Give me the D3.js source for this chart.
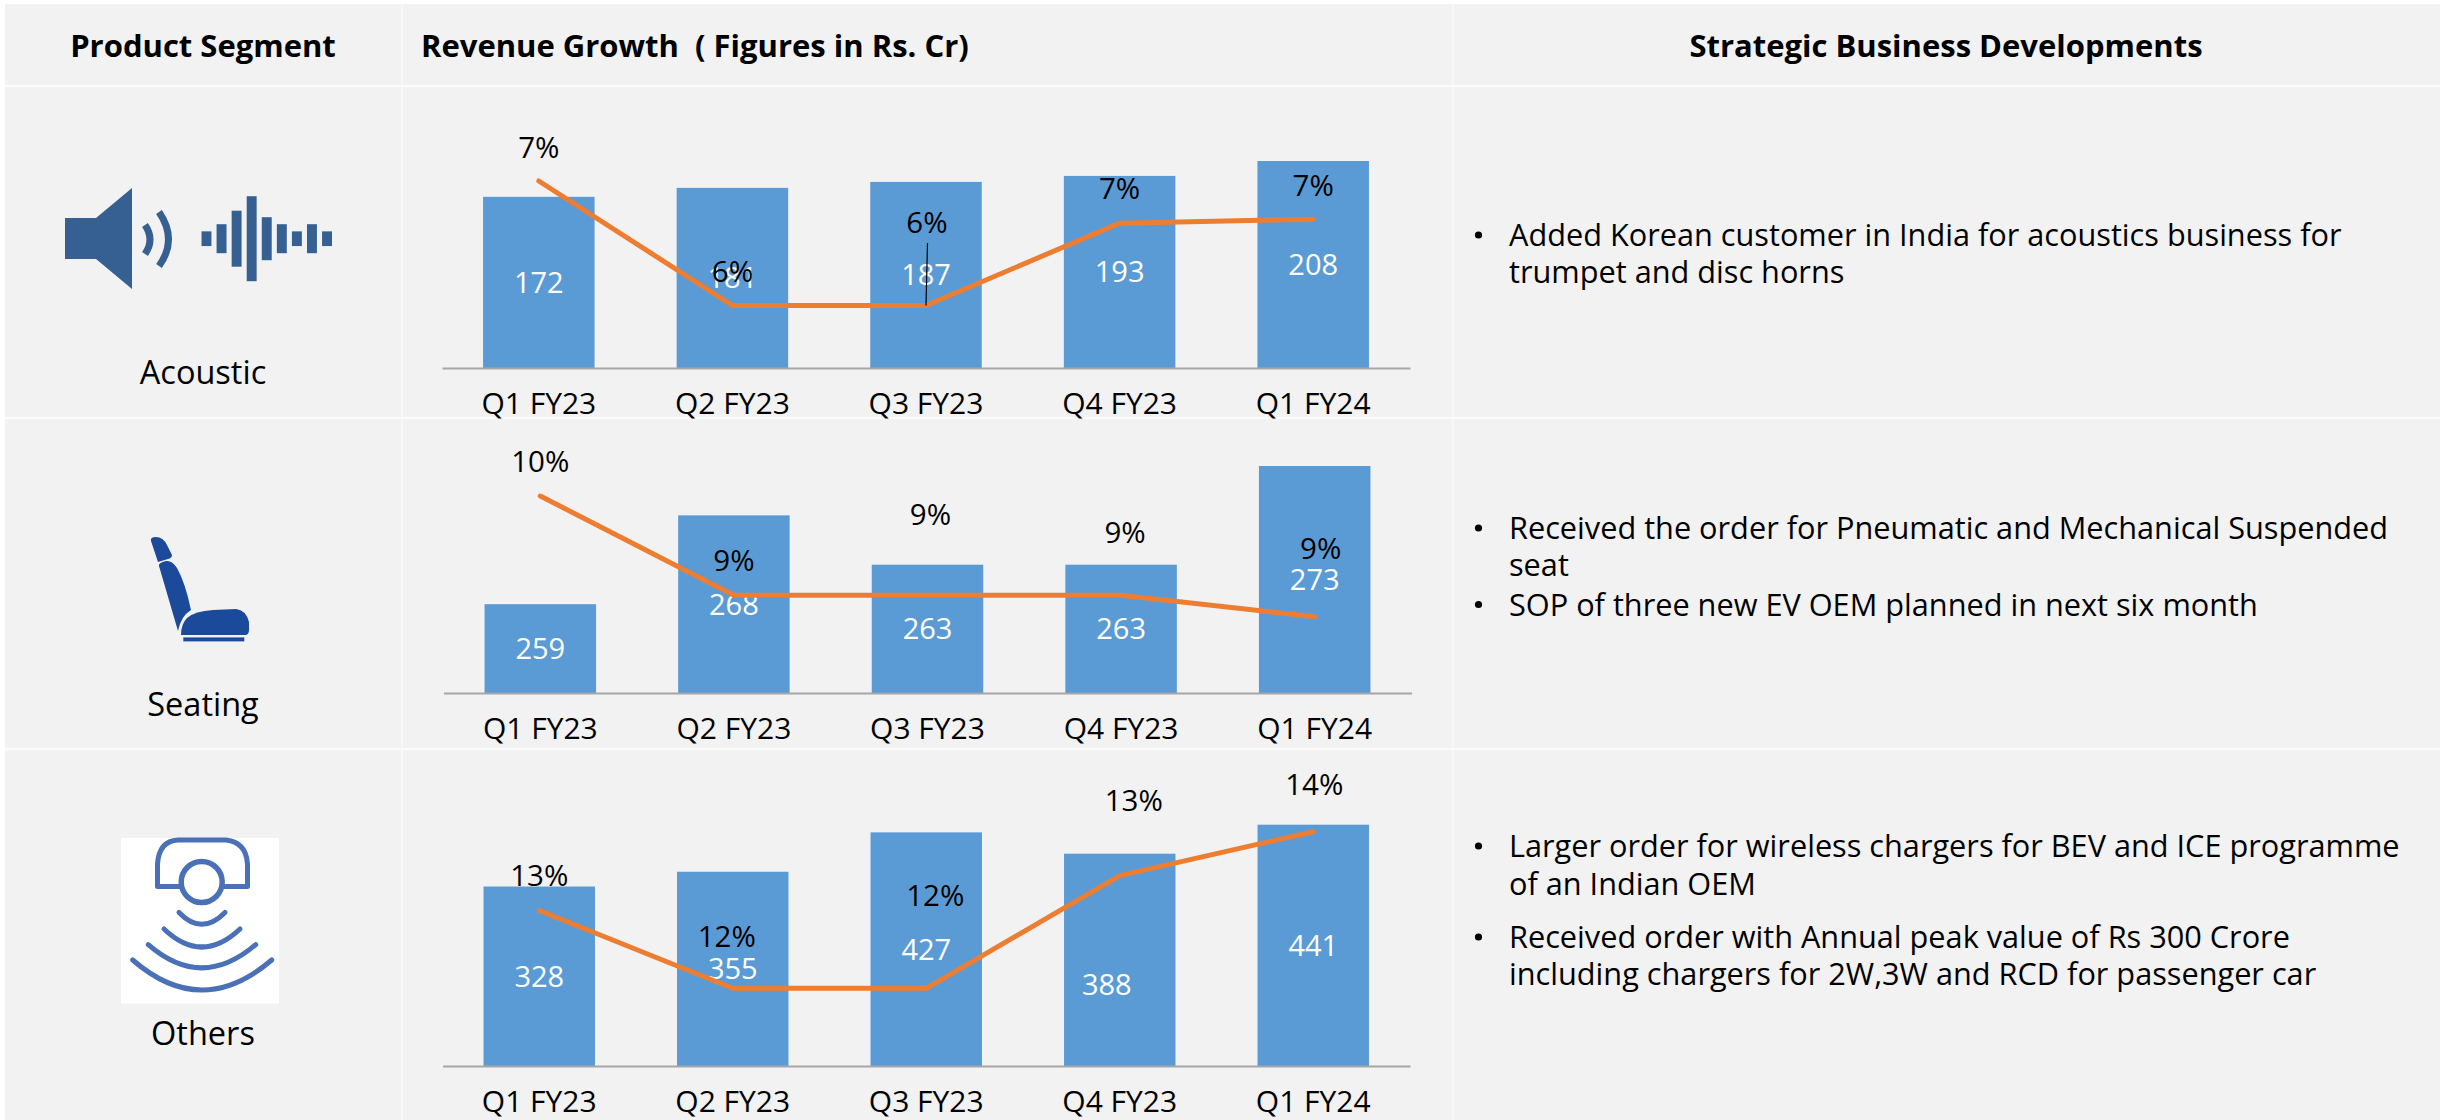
<!DOCTYPE html>
<html>
<head>
<meta charset="utf-8">
<script src="https://cdn.jsdelivr.net/npm/d3@7"></script>
<style>
body { margin: 0; background: #fff; }
svg { display: block; }
text { font-family: "Open Sans", "Noto Sans", sans-serif; fill: #000; }
</style>
</head>
<body>
<script>
const quarters = ["Q1 FY23", "Q2 FY23", "Q3 FY23", "Q4 FY23", "Q1 FY24"];

const acousticRevenue = [172, 181, 187, 193, 208];
const seatingRevenue = [259, 268, 263, 263, 273];
const othersRevenue = [328, 355, 427, 388, 441];

// the line values are estimated from the picture, the labels are what is printed
const acousticGrowth = [7.24, 6.0, 6.0, 6.82, 6.86];
const seatingGrowth = [9.6, 9.0, 9.0, 9.0, 8.87];
const othersGrowth = [12.78, 12.0, 12.0, 13.13, 13.57];
const acousticGrowthLabels = ["7%", "6%", "6%", "7%", "7%"];
const seatingGrowthLabels = ["10%", "9%", "9%", "9%", "9%"];
const othersGrowthLabels = ["13%", "12%", "12%", "13%", "14%"];

const headers = ["Product Segment", "Revenue Growth  ( Figures in Rs. Cr)", "Strategic Business Developments"];
const segments = ["Acoustic", "Seating", "Others"];
const acousticNotes = [["Added Korean customer in India for acoustics business for", "trumpet and disc horns"]];
const seatingNotes = [["Received the order for Pneumatic and Mechanical Suspended", "seat"], ["SOP of three new EV OEM planned in next six month"]];
const othersNotes = [["Larger order for wireless chargers for BEV and ICE programme", "of an Indian OEM"], ["Received order with Annual peak value of Rs 300 Crore", "including chargers for 2W,3W and RCD for passenger car"]];

const waveBars = [14.7, 29, 56, 85, 43, 29, 14.7, 29, 14.7];

const width = 2440;
const height = 1120;
const blue = "#5b9bd5";
const orange = "#ed7d31";

const svg = d3.select("body")
    .append("svg")
    .attr("width", width)
    .attr("height", height);

// table background and the thin white rules
svg.append("rect")
    .attr("x", 5).attr("y", 4)
    .attr("width", width - 5).attr("height", height - 4)
    .attr("fill", "#f2f2f2");

svg.selectAll("line.rowRule")
    .data([86, 418, 749])
    .join("line")
        .attr("class", "rowRule")
        .attr("x1", 5).attr("x2", width)
        .attr("y1", d => d).attr("y2", d => d)
        .attr("stroke", "#fbfbfb")
        .attr("stroke-width", 2);

svg.selectAll("line.colRule")
    .data([402, 1453])
    .join("line")
        .attr("class", "colRule")
        .attr("x1", d => d).attr("x2", d => d)
        .attr("y1", 4).attr("y2", height)
        .attr("stroke", "#f8f8f8")
        .attr("stroke-width", 1.5);

// header row
svg.selectAll("text.header")
    .data(headers)
    .join("text")
        .attr("class", "header")
        .attr("x", (d, i) => [203, 421, 1946][i])
        .attr("y", 57)
        .attr("text-anchor", (d, i) => i == 1 ? "start" : "middle")
        .attr("font-size", 31)
        .attr("font-weight", 700)
        .attr("xml:space", "preserve")
        .style("white-space", "pre")
        .text(d => d);

// segment names
svg.selectAll("text.segment")
    .data(segments)
    .join("text")
        .attr("class", "segment")
        .attr("x", 203)
        .attr("y", (d, i) => [384, 716, 1045][i])
        .attr("text-anchor", "middle")
        .attr("font-size", 32.5)
        .text(d => d);

function drawPanel(cfg) {
    const x = d3.scaleBand()
        .domain(quarters)
        .range(cfg.xRange)
        .paddingInner(0.424)
        .paddingOuter(0.212);
    const y = d3.scaleLinear().domain(cfg.revenueDomain).range([cfg.baseline, cfg.top]);
    const yGrowth = d3.scaleLinear().domain(cfg.growthDomain).range(cfg.growthRange);
    const cx = i => x(quarters[i]) + x.bandwidth() / 2;

    const g = svg.append("g");

    g.selectAll("rect")
        .data(cfg.revenue)
        .join("rect")
            .attr("x", (d, i) => x(quarters[i]))
            .attr("y", d => y(d))
            .attr("width", x.bandwidth())
            .attr("height", d => cfg.baseline - y(d))
            .attr("fill", blue);

    const axis = g.append("g")
        .attr("transform", "translate(0," + cfg.baseline + ")")
        .call(d3.axisBottom(x).tickSize(0).tickPadding(25));
    axis.select(".domain").attr("stroke", "#a6a6a6").attr("stroke-width", 2);
    axis.selectAll("text")
        .attr("font-size", 30)
        .attr("fill", "#000")
        .style("font-family", '"Open Sans", "Noto Sans", sans-serif');

    g.selectAll("text.value")
        .data(cfg.revenue)
        .join("text")
            .attr("class", "value")
            .attr("x", (d, i) => cx(i) + (cfg.valueShift[i] ? cfg.valueShift[i][0] : 0))
            .attr("y", (d, i) => (y(d) + cfg.baseline) / 2 + (cfg.valueShift[i] ? cfg.valueShift[i][1] : 0))
            .attr("dy", "0.36em")
            .attr("text-anchor", "middle")
            .attr("font-size", 29)
            .style("fill", "#fff")
            .text(d => d);

    const line = d3.line()
        .x((d, i) => cx(i))
        .y(d => yGrowth(d));

    g.append("path")
        .attr("d", line(cfg.growth))
        .attr("fill", "none")
        .attr("stroke", orange)
        .attr("stroke-width", 5)
        .attr("stroke-linecap", "round")
        .attr("stroke-linejoin", "round");

    g.selectAll("text.growth")
        .data(cfg.growthLabels)
        .join("text")
            .attr("class", "growth")
            .attr("x", (d, i) => cx(i) + cfg.labelShift[i][0])
            .attr("y", (d, i) => yGrowth(cfg.growth[i]) + cfg.labelShift[i][1])
            .attr("dy", "0.36em")
            .attr("text-anchor", "middle")
            .attr("font-size", 29.5)
            .text(d => d);

    return { cx, yGrowth };
}

const acousticPanel = drawPanel({
    revenue: acousticRevenue, growth: acousticGrowth, growthLabels: acousticGrowthLabels,
    xRange: [442, 1410], baseline: 368, top: 161, revenueDomain: [0, 208],
    growthDomain: [6, 7.24], growthRange: [305.5, 181],
    valueShift: [],
    labelShift: [[0, -34], [0, -34], [1, -83], [0, -35], [0, -34]]
});

drawPanel({
    revenue: seatingRevenue, growth: seatingGrowth, growthLabels: seatingGrowthLabels,
    xRange: [443.5, 1411.5], baseline: 693, top: 466, revenueDomain: [250, 273],
    growthDomain: [8.87, 9.6], growthRange: [616.7, 496],
    valueShift: [],
    labelShift: [[0, -35], [0, -35], [3, -81], [4, -63], [6, -68]]
});

drawPanel({
    revenue: othersRevenue, growth: othersGrowth, growthLabels: othersGrowthLabels,
    xRange: [442.5, 1410], baseline: 1066, top: 824.7, revenueDomain: [0, 441],
    growthDomain: [12, 13.57], growthRange: [988.3, 831.7],
    valueShift: [null, null, null, [-13, 25], null],
    labelShift: [[0, -35], [-6, -52], [9, -93], [14, -75], [1, -47]]
});

// the small leader line under the Q3 label of the acoustic chart
svg.append("line")
    .attr("x1", 927.5).attr("y1", 243)
    .attr("x2", acousticPanel.cx(2)).attr("y2", acousticPanel.yGrowth(acousticGrowth[2]))
    .attr("stroke", "#000")
    .attr("stroke-width", 1.2);

// right hand notes
function drawNotes(notes, baselines) {
    let k = 0;
    notes.forEach(lines => {
        lines.forEach((t, j) => {
            if (j == 0) {
                svg.append("circle")
                    .attr("cx", 1478.5).attr("cy", baselines[k] - 11)
                    .attr("r", 3.6).attr("fill", "#000");
            }
            svg.append("text")
                .attr("x", 1509).attr("y", baselines[k])
                .attr("font-size", 30.7)
                .text(t);
            k++;
        });
    });
}
drawNotes(acousticNotes, [246, 283]);
drawNotes(seatingNotes, [539, 576, 615.5]);
drawNotes(othersNotes, [857, 894.5, 948, 985]);

// speaker icon
const iconBlue = "#376092";
svg.append("path")
    .attr("d", "M65,218H96L132,188V289L96,259H65Z")
    .attr("fill", iconBlue);
svg.append("path")
    .attr("d", "M145,225Q155,239.5 145,254M159,212Q178,239.5 159,266")
    .attr("fill", "none").attr("stroke", iconBlue).attr("stroke-width", 7);

const waveX = d3.scaleBand().domain(d3.range(waveBars.length)).range([201.5, 332]).paddingInner(0.34);
svg.selectAll("rect.wave")
    .data(waveBars)
    .join("rect")
        .attr("class", "wave")
        .attr("x", (d, i) => waveX(i))
        .attr("y", d => 238.7 - d / 2)
        .attr("width", waveX.bandwidth())
        .attr("height", d => d)
        .attr("fill", iconBlue);

// seat icon
const seatBlue = "#1c4a9a";
svg.append("path")
    .attr("d", "M151,541Q150,537 156,537Q163,537 167,545L172,555Q172,558 168,559L158,562Z")
    .attr("fill", seatBlue);
svg.append("path")
    .attr("d", "M159,566Q158,563 166,561Q172,560 177,568Q185,582 191,610Q181,616 178,631Z")
    .attr("fill", seatBlue);
svg.append("path")
    .attr("d", "M181,635Q181,624 187,618Q195,611 213,610L236,609Q246,610 249,622V630Q249,635 245,635Z")
    .attr("fill", seatBlue);
svg.append("rect")
    .attr("x", 183.3).attr("y", 637.4)
    .attr("width", 61).attr("height", 4)
    .attr("fill", seatBlue);

// wireless charger icon on its white tile
const chargeBlue = "#4a70b8";
svg.append("rect")
    .attr("x", 121).attr("y", 838)
    .attr("width", 158).attr("height", 165.5)
    .attr("fill", "#fff");
const chargeIcon = svg.append("g")
    .attr("fill", "none")
    .attr("stroke", chargeBlue)
    .attr("stroke-linecap", "round")
    .attr("stroke-linejoin", "round");
chargeIcon.append("path")
    .attr("d", "M180,886.5H157.5V864Q159,841 178,840H226Q246,842 247.5,864V886.5H224")
    .attr("stroke-width", 5);
chargeIcon.append("ellipse")
    .attr("cx", 201.7).attr("cy", 882)
    .attr("rx", 20.5).attr("ry", 20.5)
    .attr("stroke-width", 5.5);
chargeIcon.selectAll("path.wave")
    .data([
        "M179,912.4Q201.7,936 225,912.4",
        "M164,929Q201.7,965 240,929",
        "M148.3,944.6Q201.7,991 255.7,944.6",
        "M132.7,960Q201.7,1020 271.7,960"
    ])
    .join("path")
        .attr("class", "wave")
        .attr("d", d => d)
        .attr("stroke-width", 5);
</script>
</body>
</html>
